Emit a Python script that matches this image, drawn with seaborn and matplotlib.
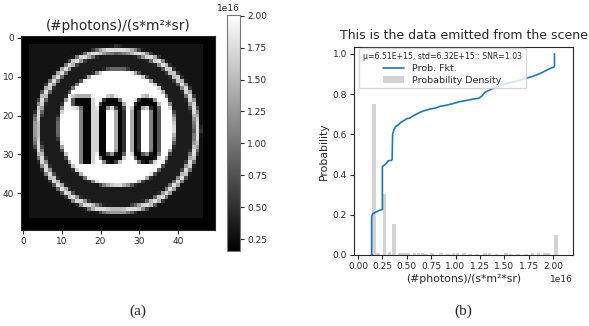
import numpy as np
import matplotlib
matplotlib.use("Agg")
import matplotlib.pyplot as plt
import seaborn as sns

# ---------------- data: panel (a) image of the sign ----------------
image_size = 50
vmin_img, vmax_img = 0.158e16, 2.005e16
level_border = 0.158e16
level_corner = 0.30e16
level_annulus = 0.36e16
level_ring = 1.75e16
level_disk = 2.00e16
level_digit = 0.20e16
sign_extent = (1.5, 46.5)            # sign square (cells)
ring_center = (24.2, 23.8)
ring_radii = (19.9, 21.4)
disk_center = (24.2, 23.2)
disk_radius = 15.1
one_stem = (15.0, 17.6, 15.2, 32.5)  # x0, x1, y0, y1
one_flag = (12.8, 15.0, 15.2, 17.6)
zero_centers_x = [22.8, 31.7]
zero_center_y = 23.85
zero_outer = (7.0, 17.3)             # width, height
zero_inner = (2.7, 12.5)

# ---------------- data: panel (b) ----------------
cdf_x = [0.14, 0.14, 0.15, 0.19, 0.22, 0.25, 0.25, 0.27, 0.29, 0.31, 0.345, 0.35,
         0.355, 0.37, 0.39, 0.42, 0.44, 0.47, 0.50, 0.53, 0.56, 0.60, 0.63, 0.67,
         0.70, 0.74, 0.80, 0.84, 0.88, 0.91, 0.97, 1.04, 1.11, 1.18, 1.24, 1.27,
         1.30, 1.35, 1.42, 1.47, 1.52, 1.57, 1.62, 1.68, 1.73, 1.78, 1.83, 1.87,
         1.90, 1.94, 1.97, 2.01, 2.015, 2.015]
cdf_y = [0.0, 0.19, 0.205, 0.215, 0.222, 0.226, 0.44, 0.447, 0.455, 0.468, 0.471, 0.475,
         0.60, 0.625, 0.64, 0.65, 0.66, 0.668, 0.678, 0.68, 0.69, 0.70, 0.708, 0.716,
         0.72, 0.726, 0.731, 0.739, 0.742, 0.745, 0.752, 0.762, 0.768, 0.775, 0.779, 0.79,
         0.808, 0.82, 0.835, 0.845, 0.852, 0.858, 0.863, 0.872, 0.879, 0.886, 0.895, 0.903,
         0.91, 0.92, 0.927, 0.935, 0.94, 1.0]
density_x = [0.165, 0.205, 0.27, 0.325, 0.37, 0.43, 0.47, 0.51, 0.58, 0.62, 0.66, 0.70,
             0.76, 0.85, 0.92, 0.98, 1.02, 1.09, 1.15, 1.22, 1.30, 1.35, 1.42, 1.52,
             1.57, 1.64, 1.72, 1.79, 1.85, 1.92, 1.95, 2.03]
density_h = [0.75, 0.008, 0.305, 0.015, 0.152, 0.012, 0.01, 0.008, 0.012, 0.012, 0.008, 0.006,
             0.008, 0.012, 0.006, 0.008, 0.01, 0.008, 0.005, 0.006, 0.01, 0.008, 0.006, 0.01,
             0.006, 0.005, 0.006, 0.008, 0.01, 0.012, 0.008, 0.10]
unit = 1e16
bar_width = 0.037
stats_title = "μ=6.51E+15, std=6.32E+15:: SNR=1.03"

# ---------------- rasterize the sign (supersampled) ----------------
ss = 6
coords = (np.arange(image_size * ss) + 0.5) / ss - 0.5
X, Y = np.meshgrid(coords, coords)
hi = np.full(X.shape, level_border)
in_sq = (X >= sign_extent[0]) & (X <= sign_extent[1]) & (Y >= sign_extent[0]) & (Y <= sign_extent[1])
hi[in_sq] = level_corner
r_ring = np.hypot(X - ring_center[0], Y - ring_center[1])
hi[in_sq & (r_ring <= ring_radii[1])] = level_ring
hi[in_sq & (r_ring < ring_radii[0])] = level_annulus
r_disk = np.hypot(X - disk_center[0], Y - disk_center[1])
hi[r_disk <= disk_radius] = level_disk


def rect(b):
    return (X >= b[0]) & (X <= b[1]) & (Y >= b[2]) & (Y <= b[3])


def stadium(cx, cy, w, h):
    dx = np.abs(X - cx)
    dy = np.abs(Y - cy)
    half = (h - w) / 2
    return ((dx <= w / 2) & (dy <= half)) | (dx ** 2 + np.clip(dy - half, 0, None) ** 2 <= (w / 2) ** 2)


digits = rect(one_stem) | rect(one_flag)
for cx in zero_centers_x:
    digits |= stadium(cx, zero_center_y, *zero_outer) & ~stadium(cx, zero_center_y, *zero_inner)
hi[digits] = level_digit
img = hi.reshape(image_size, ss, image_size, ss).mean(axis=(1, 3))

# ---------------- figure ----------------
sns.set_style("ticks")
plt.rcParams['font.family'] = ['DejaVu Sans']
W, H = 589, 326
fig = plt.figure(figsize=(W / 100, H / 100), dpi=100)


def box(x0, y0, x1, y1):
    return [x0 / W, 1 - y1 / H, (x1 - x0) / W, (y1 - y0) / H]


tick_fs = 6.5
ax1 = fig.add_axes(box(21, 36, 215, 230))
im = ax1.imshow(img, cmap='gray', vmin=vmin_img, vmax=vmax_img, interpolation='nearest')
ax1.set_xticks([0, 10, 20, 30, 40])
ax1.set_yticks([0, 10, 20, 30, 40])
ax1.tick_params(labelsize=tick_fs, length=3, pad=2)
ax1.set_title("(#photons)/(s*m²*sr)", fontsize=9.8, pad=4)

cax = fig.add_axes(box(227, 15, 240, 251))
cb = fig.colorbar(im, cax=cax)
cb.ax.tick_params(labelsize=tick_fs, length=3, pad=2)
cb.ax.yaxis.get_offset_text().set_fontsize(tick_fs)
cb.outline.set_edgecolor('#777777')

ax2 = fig.add_axes(box(354, 47, 573, 255))
ax2.bar(np.array(density_x) * unit, density_h, width=bar_width * unit, color='lightgray',
        linewidth=0, label='Probability Density', zorder=1)
sns.lineplot(x=np.array(cdf_x) * unit, y=cdf_y, sort=False, estimator=None, ax=ax2,
             color='#1f77b4', lw=1.2, label='Prob. Fkt.', zorder=2)
ax2.set_xlim(-0.041 * unit, 2.205 * unit)
ax2.set_ylim(0, 1.034)
ax2.set_xticks(np.array([0, 0.25, 0.5, 0.75, 1.0, 1.25, 1.5, 1.75, 2.0]) * unit)
ax2.set_yticks([0, 0.2, 0.4, 0.6, 0.8, 1.0])
ax2.tick_params(labelsize=tick_fs, length=3, pad=2)
ax2.xaxis.get_offset_text().set_fontsize(tick_fs)
ax2.set_xlabel("(#photons)/(s*m²*sr)", fontsize=7.8, labelpad=2)
ax2.set_ylabel("Probability", fontsize=7.8, labelpad=3)
ax2.set_title("This is the data emitted from the scene", fontsize=9, pad=6)
leg = ax2.legend(title=stats_title, loc='upper left', bbox_to_anchor=(0.023, 0.994),
                 borderaxespad=0, fontsize=6.8, title_fontsize=5.6, framealpha=0.8,
                 borderpad=0.4, labelspacing=0.3, handlelength=2.2)

fig.text(138 / W, 1 - 311 / H, "(a)", ha='center', va='center',
         family=['Liberation Serif'], fontsize=11)
fig.text(463 / W, 1 - 311 / H, "(b)", ha='center', va='center',
         family=['Liberation Serif'], fontsize=11)

fig.savefig("out.png", dpi=100)
